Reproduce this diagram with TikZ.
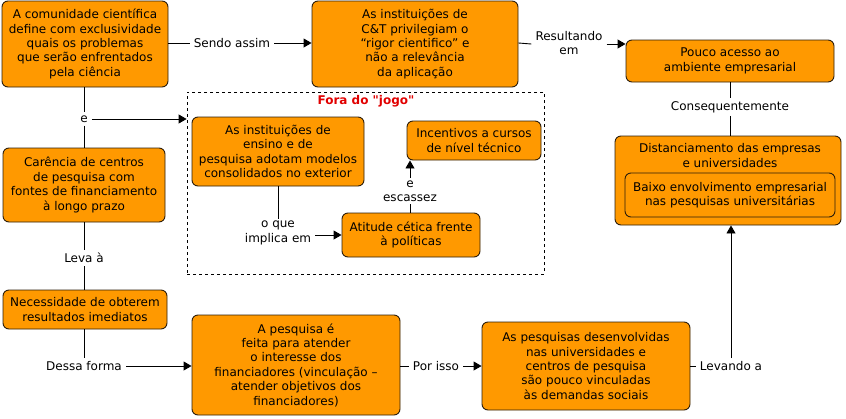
\documentclass[tikz,border=0pt]{standalone}
\usepackage{fontspec}
\setmainfont{DejaVu Sans}
\newfontfamily\plainquotes[Ligatures=ResetAll]{DejaVu Sans}
\usetikzlibrary{arrows.meta}
\definecolor{boxfill}{RGB}{255,153,0}
\definecolor{boxline}{RGB}{45,30,10}
\definecolor{titlered}{RGB}{225,0,0}
\tikzset{
  concept/.style={draw=boxline, fill=boxfill, line width=0.9pt, rounded corners=6pt,
    align=center, inner sep=0pt, font=\fontsize{12}{14.4}\selectfont},
  linklabel/.style={align=center, inner xsep=4pt, inner ysep=3pt, font=\fontsize{12}{14.4}\selectfont},
  conn/.style={line width=0.9pt, draw=black},
  arr/.style={conn, -{Triangle[length=8pt,width=9pt]}},
}
\begin{document}
\begin{tikzpicture}[x=1pt,y=-1pt]
\useasboundingbox (0,0) rectangle (846,418);
% dashed frame
\node[draw, dashed, line width=0.8pt, minimum width=357pt, minimum height=182pt, inner sep=0pt] (frame) at (365.5,183) {};
\node[text=titlered, font=\plainquotes\fontsize{12}{14.4}\selectfont\bfseries] (title) at (366,101) {Fora do "jogo"};
% concepts
\node[concept, minimum width=166pt, minimum height=86pt] (A) at (85,44)
  {A comunidade científica\\define com exclusividade\\quais os problemas\\que serão enfrentados\\pela ciência};
\node[concept, minimum width=206pt, minimum height=86pt] (B) at (415,44)
  {As instituições de\\C\&T privilegiam o\\“rigor cientifico” e\\não a relevância\\da aplicação};
\node[concept, minimum width=208pt, minimum height=42pt] (C) at (730,61)
  {Pouco acesso ao\\ambiente empresarial};
\node[concept, minimum width=226pt, minimum height=89pt] (D) at (728,180.5) {};
\node[font=\fontsize{12}{14.4}\selectfont, align=center] (Dt) at (730,155.5)
  {Distanciamento das empresas\\e universidades};
\node[concept, minimum width=210pt, minimum height=44pt] (Di) at (730,195)
  {Baixo envolvimento empresarial\\nas pesquisas universitárias};
\node[concept, minimum width=162pt, minimum height=74pt] (E) at (84,185)
  {Carência de centros\\de pesquisa com\\fontes de financiamento\\à longo prazo};
\node[concept, minimum width=164pt, minimum height=39pt] (N) at (85,309.5)
  {Necessidade de obterem\\resultados imediatos};
\node[concept, minimum width=172pt, minimum height=69pt] (G) at (278,151.5)
  {As instituições de\\ensino e de\\pesquisa adotam modelos\\consolidados no exterior};
\node[concept, minimum width=138pt, minimum height=44pt] (H) at (411,235)
  {Atitude cética frente\\à políticas};
\node[concept, minimum width=134pt, minimum height=39pt] (I) at (474,140.5)
  {Incentivos a cursos\\de nível técnico};
\node[concept, minimum width=208pt, minimum height=100pt] (P) at (296,365)
  {A pesquisa é\\feita para atender\\o interesse dos\\financiadores (vinculação –\\atender objetivos dos\\financiadores)};
\node[concept, minimum width=208pt, minimum height=88pt] (F) at (586,366)
  {As pesquisas desenvolvidas\\nas universidades e\\centros de pesquisa\\são pouco vinculadas\\às demandas sociais};
% link labels
\node[linklabel] (l1) at (232,43) {Sendo assim};
\node[linklabel] (l2) at (569,43) {Resultando\\em};
\node[linklabel] (l3) at (84,119) {e};
\node[linklabel] (l4) at (84,258) {Leva à};
\node[linklabel] (l5) at (84,366) {Dessa forma};
\node[linklabel, inner ysep=2pt] (l6) at (278,233) {o que\\implica em};
\node[linklabel, inner ysep=2pt] (l7) at (410,191) {e\\escassez};
\node[linklabel] (l8) at (436,366) {Por isso};
\node[linklabel] (l9) at (731,366) {Levando a};
\node[linklabel] (l10) at (730,107) {Consequentemente};
% connectors
\draw[conn] (A.east |- l1) -- (l1);
\draw[arr] (l1) -- (l1 -| B.west);
\draw[conn] (B.east |- l2) -- (l2.west |- B.east);
\coordinate (cin) at ([yshift=17pt]C.west);
\draw[arr] (l2.east |- cin) -- (cin);
\draw[conn] (A.south -| l3) -- (l3);
\draw[conn] (l3) -- (E.north -| l3);
\draw[arr] (l3) -- (l3 -| frame.west);
\draw[conn] (E.south -| l4) -- (l4);
\draw[conn] (l4) -- (N.north -| l4);
\draw[conn] (N.south -| l5) -- (l5);
\draw[arr] (l5) -- (l5 -| P.west);
\draw[conn] (G.south -| l6) -- (l6);
\draw[arr] (l6.east |- H.west) -- (H.west);
\draw[conn] (H.north -| l7) -- (l7);
\draw[arr] (l7) -- (l7 |- I.south);
\draw[conn] (P.east |- l8) -- (l8);
\draw[arr] (l8) -- (l8 -| F.west);
\draw[conn] (F.east |- l9) -- (l9);
\draw[arr] (l9) -- (l9 |- D.south);
\draw[conn] (C.south -| l10) -- (l10);
\draw[conn] (l10) -- (D.north -| l10);
\end{tikzpicture}
\end{document}
